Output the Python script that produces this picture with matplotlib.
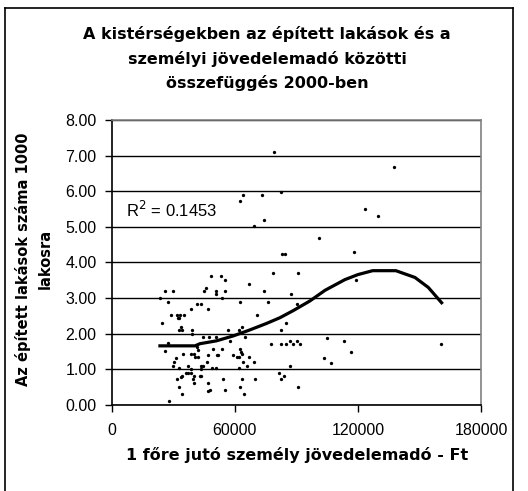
import matplotlib
matplotlib.use('Agg')
import matplotlib.pyplot as plt
import matplotlib.ticker as ticker
from matplotlib.lines import Line2D

plt.rc('font', size=11.5, family='Liberation Sans')
bold = {'family': 'DejaVu Sans', 'weight': 'bold'}

# income tax per capita (Ft) and dwellings built per 1000 inhabitants
szja = [25970, 30000, 23700, 27600, 45950, 45000, 41400, 43400, 38500, 46800,
        28750, 32000, 33300, 35200, 32300, 32900, 24500, 33600, 32900, 34300,
        39300, 39300, 44300, 27600, 26100, 41400, 41900, 34600, 31200, 30400,
        29700, 32800, 37000, 38600, 40000, 40700, 42100, 38500, 43700, 44500,
        43500, 46300, 36200, 37200, 38500, 34400, 33800, 32000, 40100, 39800,
        42900, 43500, 40300, 32800, 34400, 27800, 46800, 46800, 47900,
        48500, 53300, 55200, 51000, 51000, 55100, 53700, 66900, 78500, 90800,
        74200, 87500, 62700, 76000, 90200, 70950, 85100, 56800, 61900, 63500,
        82500, 47600, 51000, 65100, 57600, 77500, 82500, 85100, 86700, 88500,
        90400, 91800, 49500, 53600, 62500, 63000, 46900, 51200, 52000, 59300,
        60900, 62000, 63300, 66800, 64100, 66100, 69300, 48700, 50800, 62000,
        86700, 54200, 63300, 70000, 81700, 84100, 82500, 55200, 62500, 64300,
        90800,
        137400, 123300, 129800, 100900, 118200, 119000, 83000, 84300, 104900,
        113200, 116500, 103300, 106700, 160600, 79200, 64100, 73400, 82500,
        62700, 74200, 69300]
lakas = [3.21, 3.21, 3.00, 2.90, 3.28, 3.20, 2.83, 2.83, 2.69, 2.69,
         2.53, 2.52, 2.52, 2.53, 2.43, 2.43, 2.31, 2.20, 2.11, 2.11,
         2.11, 1.99, 1.91, 1.73, 1.52, 1.62, 1.54, 1.42, 1.33, 1.22,
         1.10, 1.03, 1.10, 1.42, 1.42, 1.34, 1.34, 1.01, 1.09, 1.09,
         1.01, 1.22, 0.89, 0.89, 0.89, 0.81, 0.79, 0.73, 0.82, 0.73,
         0.81, 0.81, 0.63, 0.50, 0.31, 0.10, 0.63, 0.39, 0.41,
         3.61, 3.61, 3.52, 3.21, 3.12, 3.21, 3.00, 3.39, 3.70, 3.70,
         3.21, 3.12, 2.90, 2.90, 2.83, 2.53, 2.31, 2.11, 2.11, 2.20,
         2.11, 1.90, 1.90, 1.90, 1.80, 1.72, 1.72, 1.72, 1.80, 1.72,
         1.80, 1.72, 1.58, 1.58, 1.58, 1.49, 1.41, 1.41, 1.41, 1.41,
         1.34, 1.34, 1.42, 1.34, 1.21, 1.09, 1.21, 1.03, 1.03, 1.03,
         1.10, 0.72, 0.72, 0.72, 0.89, 0.81, 0.72, 0.41, 0.51, 0.31,
         0.51,
         6.67, 5.49, 5.31, 4.70, 4.30, 3.51, 4.23, 4.23, 1.89,
         1.80, 1.50, 1.33, 1.19, 1.71, 7.11, 5.89, 5.89, 5.98,
         5.72, 5.18, 5.02]

# polynomial trendline as drawn in the source
trend_x = [23500, 40600, 43000, 51000, 59300, 67000, 75500, 82000, 88500,
           96600, 104000, 113700, 120000, 127200, 138500, 147800, 154300,
           160800]
trend_y = [1.66, 1.66, 1.72, 1.80, 1.94, 2.10, 2.29, 2.45, 2.65,
           2.92, 3.22, 3.52, 3.66, 3.77, 3.77, 3.58, 3.30, 2.87]

r2_text = 'R$^2$ = 0.1453'

fig = plt.figure(figsize=(5.28, 4.91), dpi=100)
ax = fig.add_axes([0.2116, 0.1752, 0.6994, 0.5804])

# chart area border
W, H = 528, 491
fig.add_artist(Line2D([5/W, 5/W], [0, 1 - 8/H], color='black', lw=1.2))
fig.add_artist(Line2D([5/W, 513/W], [1 - 8/H, 1 - 8/H], color='black', lw=1.2))
fig.add_artist(Line2D([513/W, 513/W], [0, 1 - 8/H], color='black', lw=1.2))

ax.plot(szja, lakas, 'o', color='black', ms=2.4, mec='none', zorder=3)
ax.plot(trend_x, trend_y, color='black', lw=2.3, zorder=4,
        solid_joinstyle='round')

ax.set_xlim(0, 180000)
ax.set_ylim(0, 8)
ax.xaxis.set_major_locator(ticker.MultipleLocator(60000))
ax.yaxis.set_major_locator(ticker.MultipleLocator(1))
ax.yaxis.set_major_formatter('{x:0.2f}')
ax.xaxis.set_major_formatter('{x:.0f}')
ax.grid(axis='y', color='black', lw=1)
ax.set_axisbelow(True)

ax.spines[['right', 'top']].set_color('#808080')
ax.spines[['right', 'top']].set_linewidth(1.2)
ax.spines[['left', 'bottom']].set_linewidth(1.2)
ax.tick_params(direction='out', length=5, width=1, labelsize=11.5, pad=6)
ax.tick_params(axis='x', pad=8)

ax.text(0.039, 0.684, r2_text, transform=ax.transAxes, fontsize=12,
        ha='left', va='center')

fig.text(0.506, 1 - 58.5/H,
         'A kistérségekben az épített lakások és a\n'
         'személyi jövedelemadó közötti\n'
         'összefüggés 2000-ben',
         ha='center', va='center', fontsize=11.5, linespacing=1.62, **bold)

fig.text(297/W, 1 - 455/H, '1 főre jutó személy jövedelemadó - Ft',
         ha='center', va='center', fontsize=11.5, **bold)
fig.text(34/W, 1 - 259/H, 'Az épített lakások száma 1000\nlakosra',
         rotation=90, ha='center', va='center', fontsize=10.5,
         linespacing=1.6, **bold)

plt.savefig('out.png', dpi=100)
